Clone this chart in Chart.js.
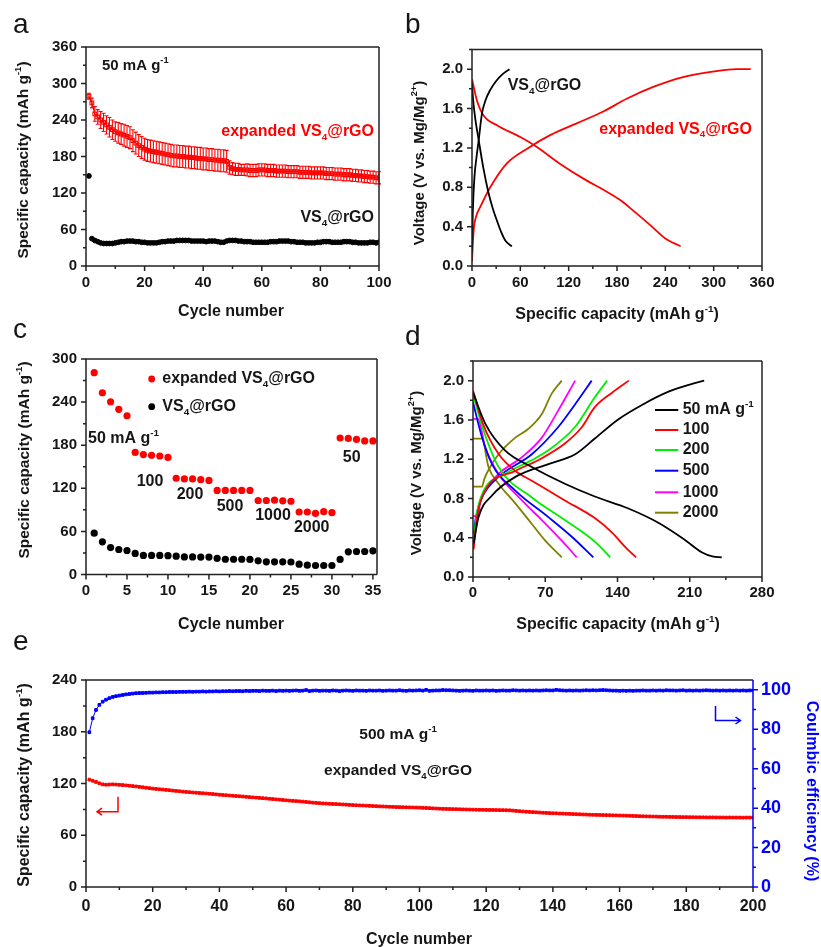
<!DOCTYPE html>
<html>
<head>
<meta charset="utf-8">
<script src="https://cdn.jsdelivr.net/npm/chart.js@4.4.1/dist/chart.umd.min.js"></script>
<style>
  body { margin: 0; background: #fff; width: 821px; height: 947px; position: relative; overflow: hidden; }
  canvas { position: absolute; }
</style>
</head>
<body>
<canvas id="ca" width="400" height="322" style="left:0;top:0"></canvas>
<canvas id="cb" width="421" height="322" style="left:400px;top:0"></canvas>
<canvas id="cc" width="400" height="312" style="left:0;top:322px"></canvas>
<canvas id="cd" width="421" height="312" style="left:400px;top:322px"></canvas>
<canvas id="ce" width="821" height="313" style="left:0;top:634px"></canvas>
<script>
// ---- data ----
// a: cycling at 50 mA/g (cycle = index + 1)
const aExpanded = [279, 268, 250, 245, 240, 236, 232, 228, 224, 221,
  219, 217, 215, 213, 211, 206, 202, 198, 195, 192,
  190, 189, 188, 187, 186, 185, 184, 183, 182, 181,
  181, 180, 180, 179, 179, 178, 178, 177, 177, 176,
  176, 175, 175, 174, 174, 173, 173, 172, 162, 160,
  159, 159, 158, 158, 158, 157, 157, 157, 158, 158,
  158, 157, 157, 157, 156, 156, 156, 156, 155, 155,
  155, 155, 154, 154, 154, 154, 153, 153, 153, 153,
  153, 152, 152, 152, 151, 151, 151, 150, 150, 150,
  149, 149, 148, 148, 147, 147, 146, 146, 145, 145];
const aExpandedErr = [5, 8, 12, 12, 14, 15, 15, 16, 16, 16,
  17, 17, 18, 18, 18, 18, 18, 18, 18, 18,
  18, 18, 18, 18, 18, 18, 18, 18, 18, 18,
  18, 18, 18, 18, 18, 18, 18, 18, 18, 18,
  18, 18, 18, 18, 18, 18, 18, 18, 11, 10,
  10, 10, 9, 9, 10, 10, 10, 10, 10, 10,
  10, 10, 10, 10, 10, 10, 10, 10, 10, 10,
  10, 10, 10, 10, 10, 10, 10, 10, 10, 10,
  10, 10, 10, 10, 10, 10, 10, 10, 10, 10,
  10, 10, 10, 10, 10, 10, 10, 10, 10, 10];
const aVS4 = [148, 45, 42, 40, 38, 37, 37, 37, 37, 38,
  39, 40, 40, 41, 41, 41, 40, 40, 39, 39,
  38, 38, 38, 38, 39, 40, 40, 41, 41, 41,
  42, 42, 42, 42, 42, 41, 41, 41, 41, 41,
  40, 41, 41, 41, 40, 39, 39, 41, 42, 42,
  42, 41, 41, 40, 40, 40, 39, 39, 39, 39,
  39, 39, 40, 40, 40, 41, 41, 41, 41, 40,
  40, 39, 39, 39, 38, 38, 38, 38, 39, 39,
  40, 40, 40, 39, 39, 39, 39, 40, 40, 40,
  39, 39, 38, 38, 38, 38, 39, 39, 38, 39];

// b: charge/discharge profiles [capacity, voltage]
const bVS4Charge = [[0, 0.15], [1, 0.55], [3, 0.9], [5.5, 1.1], [8.3, 1.28], [12.4, 1.55], [17, 1.69], [22.7, 1.79], [30, 1.88], [38, 1.95], [46.5, 2.0]];
const bVS4Discharge = [[0, 1.85], [1.5, 1.68], [4, 1.5], [8.3, 1.28], [14, 1.0], [20.6, 0.74], [26, 0.58], [31, 0.46], [36, 0.35], [41.3, 0.26], [49.5, 0.2]];
const bExpCharge = [[0, 0.05], [2, 0.36], [5, 0.5], [10.3, 0.6], [22.7, 0.8], [43, 1.04], [68, 1.19], [97, 1.33], [130, 1.45], [163, 1.57], [192, 1.7], [225, 1.82], [262, 1.92], [303, 1.98], [328, 2.0], [346, 2.0]];
const bExpDischarge = [[0, 1.9], [6.2, 1.68], [14.4, 1.53], [31, 1.43], [60, 1.31], [80.5, 1.21], [109, 1.04], [142, 0.87], [162, 0.78], [184, 0.67], [202, 0.55], [222, 0.41], [240, 0.28], [259, 0.2]];

// c: rate capability (cycle = index + 1)
const cExpanded = [281, 253, 240.5, 230, 221, 170, 167, 166, 165, 163,
  134, 133, 133, 132, 131, 117, 117, 117, 117, 117,
  103, 103, 103.5, 102.5, 102, 87, 87, 85, 87.5, 86,
  190, 189.5, 188, 186, 186];
const cVS4 = [57.5, 45.5, 37.5, 34.8, 33.4, 29.3, 26.5, 26.5, 26.5, 26.2,
  25.5, 24.5, 24.5, 24.2, 24.2, 22.5, 21.2, 21.2, 21.2, 21,
  19, 17.6, 17.6, 17.6, 17.4, 14.4, 13, 12.5, 12.5, 12.5,
  21, 31.6, 32, 32, 33];
const cRateLabels = ['100', '200', '500', '1000', '2000', '50'];

// d: profiles of expanded VS4@rGO at different current densities
const dRates = ['50', '100', '200', '500', '1000', '2000'];
const dColors = ['#000000', '#ff0000', '#00ee00', '#0000ff', '#ff00ff', '#808000'];
const dCharge = [
  [[0.6, 0.34], [5.4, 0.61], [18.4, 0.83], [41, 1.02], [73, 1.15], [99, 1.25], [118, 1.41], [140, 1.6], [165, 1.76], [190, 1.89], [210, 1.96], [224, 2.0]],
  [[0.6, 0.28], [4, 0.62], [11.9, 0.88], [41, 1.08], [65, 1.2], [89, 1.36], [105, 1.52], [118, 1.73], [135, 1.88], [151, 2.0]],
  [[0.6, 0.33], [3, 0.6], [8.7, 0.84], [31.2, 1.05], [55, 1.18], [73, 1.29], [99, 1.53], [118, 1.83], [130, 2.0]],
  [[0.6, 0.44], [3, 0.62], [8.7, 0.81], [24.8, 1.02], [57, 1.25], [82.8, 1.53], [99, 1.76], [115, 2.0]],
  [[0, 0.62], [4.8, 0.62], [7, 0.76], [11.9, 0.88], [24.8, 1.05], [47.4, 1.22], [66.7, 1.42], [82.8, 1.7], [99, 2.0]],
  [[0, 0.92], [8.7, 0.92], [11, 1.0], [15, 1.09], [24.8, 1.25], [41, 1.42], [53.8, 1.51], [66.7, 1.66], [76.4, 1.87], [86, 2.0]]
];
const dDischarge = [
  [[0, 1.88], [12, 1.56], [31, 1.29], [57, 1.12], [89, 0.95], [118, 0.82], [150, 0.7], [180, 0.55], [205, 0.38], [222, 0.25], [232, 0.21], [241, 0.2]],
  [[0, 1.9], [10, 1.55], [25, 1.25], [41, 1.08], [57, 0.98], [89, 0.78], [118, 0.6], [135, 0.45], [148, 0.3], [158, 0.2]],
  [[0, 1.86], [10, 1.5], [24.8, 1.12], [57, 0.81], [89, 0.58], [118, 0.36], [133, 0.2]],
  [[0, 1.78], [8, 1.45], [18.4, 1.15], [41, 0.88], [73, 0.61], [95.7, 0.41], [116.6, 0.2]],
  [[0, 1.61], [4.8, 1.61], [11.9, 1.32], [24.8, 1.05], [47.4, 0.78], [66.7, 0.58], [86, 0.37], [100.5, 0.2]],
  [[0, 1.41], [8.7, 1.41], [15, 1.12], [24.8, 0.95], [41, 0.75], [57, 0.54], [70, 0.37], [86, 0.2]]
];

// e: long cycling at 500 mA/g (cycle = index + 1)
const eCapacity = [124.5, 123.2, 121.8, 120.2, 119.0, 118.6, 118.8, 119.0, 118.8, 118.5,
  118.2, 117.8, 117.4, 117.0, 116.6, 116.1, 115.6, 115.1, 114.6, 114.1,
  113.7, 113.3, 113.0, 112.6, 112.2, 111.8, 111.4, 111.0, 110.6, 110.2,
  109.9, 109.6, 109.3, 109.0, 108.7, 108.4, 108.1, 107.8, 107.4, 107.0,
  106.7, 106.4, 106.1, 105.8, 105.5, 105.2, 104.9, 104.6, 104.2, 103.9,
  103.6, 103.3, 103.0, 102.7, 102.3, 102.0, 101.6, 101.3, 100.9, 100.5,
  100.2, 99.9, 99.6, 99.3, 99.0, 98.6, 98.2, 97.8, 97.5, 97.2,
  96.9, 96.7, 96.5, 96.3, 96.1, 95.9, 95.7, 95.5, 95.2, 95.0,
  94.8, 94.6, 94.5, 94.3, 94.1, 93.9, 93.7, 93.5, 93.4, 93.2,
  93.0, 92.9, 92.7, 92.6, 92.5, 92.4, 92.3, 92.2, 92.1, 92.0,
  91.8, 91.6, 91.4, 91.2, 91.0, 90.8, 90.6, 90.5, 90.4, 90.3,
  90.2, 90.1, 90.0, 89.9, 89.8, 89.7, 89.6, 89.5, 89.5, 89.4,
  89.3, 89.3, 89.2, 89.1, 89.1, 89.0, 88.9, 88.6, 88.2, 87.9,
  87.6, 87.3, 87.1, 86.8, 86.6, 86.4, 86.1, 85.9, 85.7, 85.5,
  85.4, 85.2, 85.1, 84.9, 84.8, 84.6, 84.4, 84.3, 84.1, 84.0,
  83.8, 83.7, 83.6, 83.5, 83.4, 83.3, 83.2, 83.1, 83.0, 82.9,
  82.8, 82.7, 82.6, 82.4, 82.3, 82.1, 82.0, 81.9, 81.8, 81.7,
  81.6, 81.5, 81.4, 81.4, 81.3, 81.2, 81.1, 81.1, 81.0, 81.0,
  80.9, 80.9, 80.8, 80.8, 80.8, 80.7, 80.7, 80.7, 80.6, 80.6,
  80.6, 80.5, 80.6, 80.5, 80.5, 80.5, 80.4, 80.5, 80.5, 80.5];
const eEfficiency = [78.5, 85.6, 89.8, 92.4, 94.0, 95.0, 95.8, 96.4, 96.8, 97.1,
  97.4, 97.7, 97.9, 98.1, 98.3, 98.4, 98.4, 98.5, 98.6, 98.6,
  98.7, 98.7, 98.8, 98.8, 98.9, 98.9, 98.9, 99.0, 99.0, 99.0,
  99.1, 99.0, 99.1, 99.1, 99.2, 99.1, 99.2, 99.2, 99.3, 99.2,
  99.3, 99.3, 99.4, 99.3, 99.4, 99.4, 99.3, 99.5, 99.4, 99.5,
  99.5, 99.4, 99.6, 99.5, 99.5, 99.6, 99.4, 99.6, 99.5, 99.6,
  99.5, 99.6, 99.7, 99.5, 99.6, 99.9, 99.4, 99.6, 99.7, 99.5,
  99.6, 99.6, 99.5, 99.7, 99.6, 99.4, 99.6, 99.7, 99.6, 99.5,
  99.7, 99.6, 99.6, 99.5, 99.7, 99.6, 99.6, 99.7, 99.5, 99.6,
  99.7, 99.6, 99.6, 99.8, 99.6, 99.5, 99.7, 99.6, 99.7, 99.8,
  99.6, 100.0, 99.5, 99.6, 99.7, 99.7, 99.9, 99.8, 99.8, 99.7,
  99.6, 99.5, 99.6, 99.7, 99.6, 99.5, 99.7, 99.6, 99.6, 99.7,
  99.6, 99.7, 99.5, 99.6, 99.7, 99.6, 99.6, 99.8, 99.7, 99.6,
  99.7, 99.6, 99.7, 99.6, 99.7, 99.6, 99.7, 99.8, 99.7, 99.7,
  100.0, 99.8, 99.7, 99.6, 99.7, 99.6, 99.7, 99.6, 99.7, 99.8,
  99.7, 99.8, 99.7, 99.8, 99.9, 99.8, 99.7, 99.6, 99.6, 99.5,
  99.6, 99.5, 99.6, 99.5, 99.6, 99.6, 99.7, 99.6, 99.6, 99.7,
  99.6, 99.7, 99.6, 99.8, 99.7, 99.7, 99.6, 99.7, 99.8, 99.6,
  99.7, 99.6, 99.7, 99.6, 99.7, 99.8, 99.7, 99.6, 99.7, 99.6,
  99.7, 99.6, 99.7, 99.6, 99.7, 99.6, 99.7, 99.6, 99.7, 99.7];

// ---- helpers ----
const FONT = "'Liberation Sans', Arial, Helvetica, sans-serif";
const RED = '#ff0000', BLUE = '#0000ff', INK = '#161616';
Chart.defaults.font.family = FONT;
Chart.defaults.font.weight = 'bold';
Chart.defaults.color = INK;

const T_EXP = [['expanded VS'], ['4', 'sub'], ['@rGO']];
const T_VS = [['VS'], ['4', 'sub'], ['@rGO']];
const T_CAP = [['Specific capacity (mAh g'], ['-1', 'sup'], [')']];
const T_VOLT = [['Voltage (V vs. Mg/Mg'], ['2+', 'sup'], [')']];
const mA = n => [[n + ' mA g'], ['-1', 'sup']];

// draws text with sub/superscript parts
function rich(ctx, parts, x, y, o = {}) {
  const size = o.size || 16, small = size * 0.62;
  const fnt = s => `${o.weight || 'bold'} ${s}px ${FONT}`;
  let w = 0;
  const ws = parts.map(([t, k]) => { ctx.font = fnt(k ? small : size); const m = ctx.measureText(t).width; w += m; return m; });
  ctx.save();
  ctx.translate(x, y);
  ctx.rotate(o.rot || 0);
  ctx.fillStyle = o.color || INK;
  ctx.textBaseline = o.base || 'middle';
  ctx.textAlign = 'left';
  let cx = o.align === 'center' ? -w / 2 : o.align === 'right' ? -w : 0;
  parts.forEach(([t, k], i) => {
    ctx.font = fnt(k ? small : size);
    const dy = k === 'sub' ? size * 0.32 : k === 'sup' ? -size * 0.36 : 0;
    ctx.fillText(t, cx, dy);
    cx += ws[i];
  });
  ctx.restore();
}
const letter = (ctx, t, x, y) => rich(ctx, [[t]], x, y, { size: 28, weight: 'normal', base: 'alphabetic' });

// box + outward major/minor ticks
function frame(spec, rightColor) {
  return {
    id: 'frame',
    afterDatasetsDraw(chart) {
      const { ctx, chartArea: a } = chart;
      ctx.save();
      ctx.lineWidth = 1.5;
      ctx.strokeStyle = '#222';
      ctx.beginPath();
      ctx.moveTo(a.right, a.top); ctx.lineTo(a.left, a.top); ctx.lineTo(a.left, a.bottom); ctx.lineTo(a.right, a.bottom);
      ctx.stroke();
      ctx.strokeStyle = rightColor || '#222';
      ctx.beginPath(); ctx.moveTo(a.right, a.top); ctx.lineTo(a.right, a.bottom); ctx.stroke();
      for (const id in spec) {
        const [major, minor, color] = spec[id];
        const s = chart.scales[id];
        const n = Math.floor((s.max - s.min) / minor + 1e-6);
        ctx.strokeStyle = color || '#222';
        ctx.beginPath();
        for (let i = 0; i <= n; i++) {
          const v = s.min + i * minor, r = v / major;
          const len = Math.abs(r - Math.round(r)) < 1e-6 ? 5 : 3;
          const p = s.getPixelForValue(v);
          if (id === 'x') { ctx.moveTo(p, a.bottom); ctx.lineTo(p, a.bottom + len); }
          else if (s.position === 'right') { ctx.moveTo(a.right, p); ctx.lineTo(a.right + len, p); }
          else { ctx.moveTo(a.left - len, p); ctx.lineTo(a.left, p); }
        }
        ctx.stroke();
      }
      ctx.restore();
    }
  };
}
const notes = fn => ({ id: 'notes', afterDraw(chart) { fn(chart.ctx, chart); } });

const errorBars = {
  id: 'errorBars',
  beforeDatasetsDraw(chart) {
    const { ctx } = chart, y = chart.scales.y;
    chart.data.datasets.forEach((ds, di) => {
      if (!ds.errs) return;
      const meta = chart.getDatasetMeta(di);
      ctx.save();
      ctx.strokeStyle = ds.borderColor;
      ctx.lineWidth = 1.1;
      ctx.beginPath();
      meta.data.forEach((pt, i) => {
        const v = ds.data[i].y, e = ds.errs[i];
        const y1 = y.getPixelForValue(v + e), y2 = y.getPixelForValue(v - e);
        ctx.moveTo(pt.x, y1); ctx.lineTo(pt.x, y2);
        ctx.moveTo(pt.x - 2, y1); ctx.lineTo(pt.x + 2, y1);
        ctx.moveTo(pt.x - 2, y2); ctx.lineTo(pt.x + 2, y2);
      });
      ctx.stroke();
      ctx.restore();
    });
  }
};

function axis(kind, min, max, step, fit, o = {}) {
  const position = o.position || (kind === 'x' ? 'bottom' : 'left');
  return {
    type: 'linear', position, min, max,
    afterFit: s => { if (kind === 'x') s.height = fit; else s.width = fit; },
    grid: { display: false, drawTicks: false },
    border: { display: false },
    ticks: {
      stepSize: step, includeBounds: false, autoSkip: false, maxRotation: 0, padding: o.pad || 8,
      color: o.color || INK, font: { size: o.size || 15, weight: 'bold' },
      callback: v => Math.abs(v / step - Math.round(v / step)) > 1e-6 ? '' : (o.fmt ? o.fmt(v) : String(v))
    }
  };
}
const base = (padding, scales) => ({
  responsive: false, animation: false, devicePixelRatio: 1,
  layout: { padding },
  plugins: { legend: { display: false }, tooltip: { enabled: false } },
  scales
});
const pts = arr => arr.map(([x, y]) => ({ x, y }));
const byCycle = arr => arr.map((y, i) => ({ x: i + 1, y }));
const curve = (arr, color) => ({ data: pts(arr), borderColor: color, borderWidth: 1.8, pointRadius: 0, showLine: true, cubicInterpolationMode: 'monotone' });

// ---- a ----
new Chart(document.getElementById('ca'), {
  type: 'scatter',
  data: { datasets: [
    { data: byCycle(aExpanded), errs: aExpandedErr, borderColor: RED, backgroundColor: 'transparent',
      pointStyle: 'rect', pointRadius: 2.6, pointBorderWidth: 1.1, showLine: true, borderWidth: 1.2 },
    { data: byCycle(aVS4), borderColor: '#000', backgroundColor: '#000', pointRadius: 2.4, showLine: false }
  ] },
  options: base({ left: 0, top: 47, right: 21, bottom: 0 }, {
    x: axis('x', 0, 100, 20, 322 - 266),
    y: axis('y', 0, 360, 60, 86, { pad: 9 })
  }),
  plugins: [errorBars, frame({ x: [20, 10], y: [60, 30] }), notes(ctx => {
    letter(ctx, 'a', 13, 33);
    rich(ctx, T_CAP, 24, 160, { size: 15.5, align: 'center', rot: -Math.PI / 2 });
    rich(ctx, [['Cycle number']], 231, 312, { size: 16, align: 'center' });
    rich(ctx, mA('50'), 102, 66, { size: 15 });
    rich(ctx, T_EXP, 374, 132, { size: 16, align: 'right', color: RED });
    rich(ctx, T_VS, 374, 218, { size: 16, align: 'right' });
  })]
});

// ---- b ----
new Chart(document.getElementById('cb'), {
  type: 'scatter',
  data: { datasets: [
    curve(bVS4Charge, '#000'), curve(bVS4Discharge, '#000'),
    curve(bExpCharge, RED), curve(bExpDischarge, RED)
  ] },
  options: base({ left: 0, top: 49.5, right: 59, bottom: 0 }, {
    x: axis('x', 0, 360, 60, 322 - 266),
    y: axis('y', 0, 2.2, 0.4, 72, { pad: 9, fmt: v => v.toFixed(1) })
  }),
  plugins: [frame({ x: [60, 30], y: [0.4, 0.2] }), notes(ctx => {
    letter(ctx, 'b', 5, 33);
    rich(ctx, T_VOLT, 20, 163, { size: 15, align: 'center', rot: -Math.PI / 2 });
    rich(ctx, T_CAP, 217, 315, { size: 16, align: 'center' });
    rich(ctx, T_VS, 107.7, 86, { size: 16 });
    rich(ctx, T_EXP, 199.3, 129.3, { size: 16, color: RED });
  })]
});

// ---- c ----
new Chart(document.getElementById('cc'), {
  type: 'scatter',
  data: { datasets: [
    { data: byCycle(cExpanded), backgroundColor: RED, borderColor: RED, pointRadius: 3.6, borderWidth: 0 },
    { data: byCycle(cVS4), backgroundColor: '#000', borderColor: '#000', pointRadius: 3.6, borderWidth: 0 }
  ] },
  options: base({ left: 0, top: 37, right: 23, bottom: 0 }, {
    x: axis('x', 0, 35.5, 5, 312 - 252.5, { pad: 7 }),
    y: axis('y', 0, 300, 60, 86, { pad: 9 })
  }),
  plugins: [frame({ x: [5, 2.5], y: [60, 30] }), notes(ctx => {
    letter(ctx, 'c', 13, 16);
    rich(ctx, T_CAP, 25, 138, { size: 15.5, align: 'center', rot: -Math.PI / 2 });
    rich(ctx, [['Cycle number']], 231, 303, { size: 16, align: 'center' });
    [[RED, T_EXP, 57], ['#000', T_VS, 84.7]].forEach(([col, t, y]) => {
      ctx.fillStyle = col;
      ctx.beginPath(); ctx.arc(151.7, y, 3.4, 0, Math.PI * 2); ctx.fill();
      rich(ctx, t, 162.3, y, { size: 16 });
    });
    rich(ctx, mA('50'), 88, 117, { size: 16 });
    const lp = [[150, 159.7], [190, 173], [230, 184.7], [273, 193.7], [311.7, 205.3], [351.7, 136]];
    cRateLabels.forEach((t, i) => rich(ctx, [[t]], lp[i][0], lp[i][1], { size: 16, align: 'center' }));
  })]
});

// ---- d ----
const dSets = [];
dRates.forEach((r, i) => {
  dSets.push(curve(dCharge[i], dColors[i]));
  dSets.push(curve(dDischarge[i], dColors[i]));
});
new Chart(document.getElementById('cd'), {
  type: 'scatter',
  data: { datasets: dSets },
  options: base({ left: 0, top: 39, right: 59, bottom: 0 }, {
    x: axis('x', 0, 280, 70, 312 - 255, { pad: 7 }),
    y: axis('y', 0, 2.2, 0.4, 73, { pad: 9, fmt: v => v.toFixed(1) })
  }),
  plugins: [frame({ x: [70, 35], y: [0.4, 0.2] }), notes(ctx => {
    letter(ctx, 'd', 5, 23);
    rich(ctx, T_VOLT, 16.7, 151, { size: 15, align: 'center', rot: -Math.PI / 2 });
    rich(ctx, T_CAP, 218, 303, { size: 16, align: 'center' });
    const ly = [88, 108, 128, 148.7, 170.3, 190.7];
    dRates.forEach((r, i) => {
      ctx.strokeStyle = dColors[i];
      ctx.lineWidth = 2;
      ctx.beginPath(); ctx.moveTo(255, ly[i]); ctx.lineTo(278.3, ly[i]); ctx.stroke();
      rich(ctx, i === 0 ? mA(r) : [[r]], 282.7, ly[i], { size: 16 });
    });
  })]
});

// ---- e ----
new Chart(document.getElementById('ce'), {
  type: 'scatter',
  data: { datasets: [
    { data: byCycle(eCapacity), yAxisID: 'y', borderColor: RED, backgroundColor: RED,
      pointStyle: 'rect', pointRadius: 1.9, borderWidth: 1, showLine: true },
    { data: byCycle(eEfficiency), yAxisID: 'y1', borderColor: BLUE, backgroundColor: BLUE,
      pointStyle: 'rect', pointRadius: 1.9, borderWidth: 1, showLine: true }
  ] },
  options: base({ left: 0, top: 46, right: 0, bottom: 0 }, {
    x: axis('x', 0, 200, 20, 313 - 253, { pad: 10, size: 16 }),
    y: axis('y', 0, 240, 60, 86, { pad: 9 }),
    y1: axis('y', 0, 105, 20, 68, { position: 'right', pad: 8, size: 18, color: BLUE })
  }),
  plugins: [frame({ x: [20, 10], y: [60, 30], y1: [20, 10, BLUE] }, BLUE), notes(ctx => {
    letter(ctx, 'e', 13, 16);
    rich(ctx, T_CAP, 25, 151, { size: 16, align: 'center', rot: -Math.PI / 2 });
    rich(ctx, [['Coulmbic efficiency (%)']], 811.7, 157, { size: 16, align: 'center', rot: Math.PI / 2, color: BLUE });
    rich(ctx, [['Cycle number']], 419, 306, { size: 16, align: 'center' });
    rich(ctx, mA('500'), 398, 101, { size: 15.5, align: 'center' });
    rich(ctx, T_EXP, 398, 137, { size: 15.5, align: 'center' });
    ctx.save();
    ctx.lineWidth = 1.5;
    ctx.strokeStyle = RED;
    ctx.beginPath();
    ctx.moveTo(118, 162.7); ctx.lineTo(118, 177.7); ctx.lineTo(97, 177.7);
    ctx.moveTo(102, 174.2); ctx.lineTo(97, 177.7); ctx.lineTo(102, 181.2);
    ctx.stroke();
    ctx.strokeStyle = BLUE;
    ctx.beginPath();
    ctx.moveTo(715.5, 72); ctx.lineTo(715.5, 86.5); ctx.lineTo(740.5, 86.5);
    ctx.moveTo(735.5, 83); ctx.lineTo(740.5, 86.5); ctx.lineTo(735.5, 90);
    ctx.stroke();
    ctx.restore();
  })]
});
</script>
</body>
</html>
